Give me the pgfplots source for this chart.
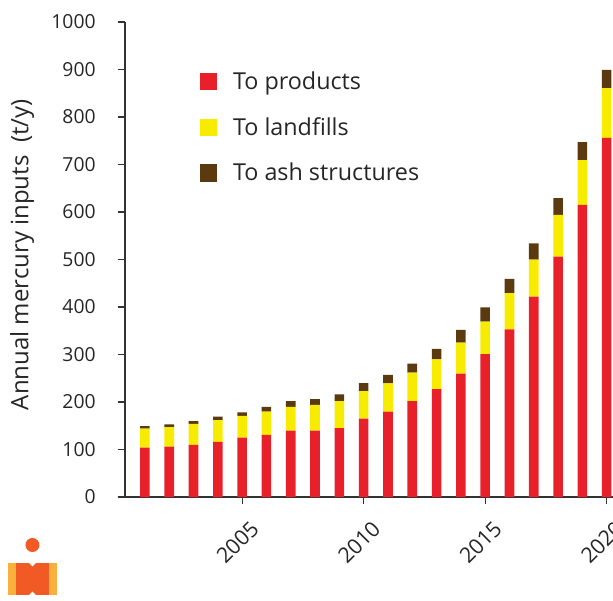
\documentclass[border=0pt]{standalone}
\usepackage{fontspec}
\setmainfont{Open Sans}
\usepackage{pgfplots}
\pgfplotsset{compat=1.18}
\usepackage{pgfplotstable}
\definecolor{cred}{HTML}{E8202A}
\definecolor{cyel}{HTML}{F7EC00}
\definecolor{cbrn}{HTML}{5C3A10}
\definecolor{lgor}{HTML}{F15A24}
\definecolor{lgyl}{HTML}{FBB03B}
\pgfplotstableread{
year prod land ash
2001 104 40 5
2002 106 41 6
2003 110 44 6
2004 116 46 7
2005 125 46 7
2006 131 49 10
2007 140 50 12
2008 140 54 12
2009 145 57 14
2010 165 58 17
2011 180 59 18
2012 202 60 19
2013 227 63 22
2014 260 65 27
2015 301 68 30
2016 353 76 30
2017 422 78 34
2018 506 88 35
2019 615 94 38
2020 756 105 38
}\data
\begin{document}
\begin{tikzpicture}
\begin{axis}[
  scale only axis, width=366pt, height=356.25pt,
  xmin=2000.18, xmax=2020.26, ymin=0, ymax=1000,
  ybar stacked, bar width=7.2pt,
  axis lines=left, axis line style={-, line width=0.8pt, black!80},
  xtick={2005,2010,2015,2020},
  ytick={0,100,...,1000},
  tick align=outside, major tick length=5.5pt,
  tick style={line width=0.8pt, black!80},
  xticklabel style={anchor=center, xshift=-3.5pt, yshift=-28.5pt, rotate=45, font=\fontsize{16}{18}\selectfont, text=black!85},
  yticklabel style={xshift=-13pt, font=\fontsize{14.5}{16}\selectfont, text=black!85},
  /pgf/number format/assume math mode=true,
  /pgf/number format/1000 sep={},
  ylabel={Annual mercury inputs\ \ (t/y)},
  ylabel style={at={(axis description cs:-0.211,0.51)}, anchor=center, font=\fontsize{18}{20}\selectfont, text=black!85},
  legend style={at={(axis description cs:0.145,0.908)}, anchor=north west, draw=none, fill=none,
    font=\fontsize{17.5}{19}\selectfont, row sep=15.6pt, column sep=10pt, text=black!85},
  legend cell align=left,
  legend image code/.code={\fill[#1] (0pt,-6.4pt) rectangle (12.8pt,6.4pt);},
  clip=true,
]
\addplot[fill=cred, draw=none] table[x=year,y=prod]{\data};
\addplot[fill=cyel, draw=none] table[x=year,y=land]{\data};
\addplot[fill=cbrn, draw=none] table[x=year,y=ash]{\data};
\legend{To products, To landfills, To ash structures}
\coordinate (sw) at (rel axis cs:0,0);
\coordinate (ne) at (rel axis cs:1,1);
\end{axis}
\draw[line width=0.8pt, black!80] ([xshift=-5.5pt]sw) -- (sw);
\fill[lgyl] ([xshift=-87.75pt,yshift=-73.5pt]sw) rectangle ([xshift=-51pt,yshift=-49.5pt]sw);
\fill[lgor] ([xshift=-82pt,yshift=-73.5pt]sw) rectangle ([xshift=-57pt,yshift=-49.5pt]sw);
\fill[white] ([xshift=-72pt,yshift=-49.5pt]sw) -- ([xshift=-69.4pt,yshift=-52pt]sw) -- ([xshift=-66.8pt,yshift=-49.5pt]sw) -- cycle;
\fill[white] ([xshift=-72pt,yshift=-73.5pt]sw) -- ([xshift=-69.4pt,yshift=-71pt]sw) -- ([xshift=-66.8pt,yshift=-73.5pt]sw) -- cycle;
\fill[lgor] ([xshift=-69.4pt,yshift=-36pt]sw) circle (5.25pt);
\pgfresetboundingbox
\path ([xshift=-93.75pt,yshift=-77.25pt]sw) rectangle ([yshift=16.5pt]ne);
\end{tikzpicture}
\end{document}
